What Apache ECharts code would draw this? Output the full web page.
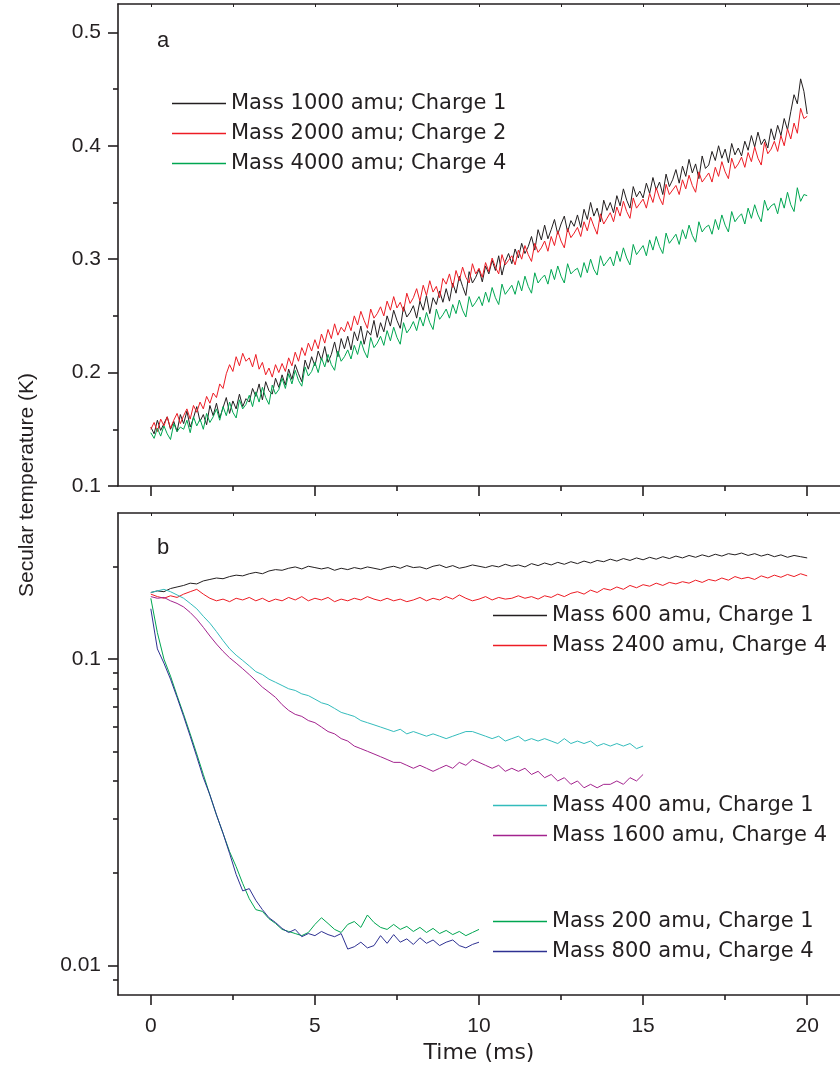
<!DOCTYPE html>
<html>
<head>
<meta charset="utf-8">
<script src="https://cdn.jsdelivr.net/npm/echarts@6/dist/echarts.min.js"></script>
<style>html,body{margin:0;padding:0;background:#fff;}#chart{width:840px;height:1073px;}</style>
</head>
<body>
<div id="chart"></div>
<script>
// ---------- DATA ----------
// sample times (ms), panel a: every 0.1 ms
const timeA = [0,0.1,0.2,0.3,0.4,0.5,0.6,0.7,0.8,0.9,1,1.1,1.2,1.3,1.4,1.5,1.6,1.7,1.8,1.9,2,2.1,2.2,2.3,2.4,2.5,2.6,2.7,2.8,2.9,3,3.1,3.2,3.3,3.4,3.5,3.6,3.7,3.8,3.9,4,4.1,4.2,4.3,4.4,4.5,4.6,4.7,4.8,4.9,5,5.1,5.2,5.3,5.4,5.5,5.6,5.7,5.8,5.9,6,6.1,6.2,6.3,6.4,6.5,6.6,6.7,6.8,6.9,7,7.1,7.2,7.3,7.4,7.5,7.6,7.7,7.8,7.9,8,8.1,8.2,8.3,8.4,8.5,8.6,8.7,8.8,8.9,9,9.1,9.2,9.3,9.4,9.5,9.6,9.7,9.8,9.9,10,10.1,10.2,10.3,10.4,10.5,10.6,10.7,10.8,10.9,11,11.1,11.2,11.3,11.4,11.5,11.6,11.7,11.8,11.9,12,12.1,12.2,12.3,12.4,12.5,12.6,12.7,12.8,12.9,13,13.1,13.2,13.3,13.4,13.5,13.6,13.7,13.8,13.9,14,14.1,14.2,14.3,14.4,14.5,14.6,14.7,14.8,14.9,15,15.1,15.2,15.3,15.4,15.5,15.6,15.7,15.8,15.9,16,16.1,16.2,16.3,16.4,16.5,16.6,16.7,16.8,16.9,17,17.1,17.2,17.3,17.4,17.5,17.6,17.7,17.8,17.9,18,18.1,18.2,18.3,18.4,18.5,18.6,18.7,18.8,18.9,19,19.1,19.2,19.3,19.4,19.5,19.6,19.7,19.8,19.9,20];
// sample times (ms), panel b: every 0.2 ms
const timeB = [0,0.2,0.4,0.6,0.8,1,1.2,1.4,1.6,1.8,2,2.2,2.4,2.6,2.8,3,3.2,3.4,3.6,3.8,4,4.2,4.4,4.6,4.8,5,5.2,5.4,5.6,5.8,6,6.2,6.4,6.6,6.8,7,7.2,7.4,7.6,7.8,8,8.2,8.4,8.6,8.8,9,9.2,9.4,9.6,9.8,10,10.2,10.4,10.6,10.8,11,11.2,11.4,11.6,11.8,12,12.2,12.4,12.6,12.8,13,13.2,13.4,13.6,13.8,14,14.2,14.4,14.6,14.8,15,15.2,15.4,15.6,15.8,16,16.2,16.4,16.6,16.8,17,17.2,17.4,17.6,17.8,18,18.2,18.4,18.6,18.8,19,19.2,19.4,19.6,19.8,20];

// panel a (linear, K)
const a_m1000_q1 = [.152,.146,.158,.149,.155,.161,.150,.157,.148,.163, .155,.166,.152,.160,.170,.157,.163,.154,.171,.162, .173,.160,.169,.178,.164,.175,.168,.181,.170,.177, .174,.186,.179,.190,.176,.192,.184,.181,.195,.187, .198,.189,.203,.194,.207,.199,.192,.211,.203,.214, .206,.219,.211,.223,.209,.216,.227,.214,.230,.221, .232,.220,.236,.228,.241,.225,.237,.233,.246,.231, .244,.236,.250,.241,.255,.246,.239,.258,.249,.253, .259,.248,.263,.255,.268,.252,.266,.260,.272,.262, .274,.263,.279,.270,.285,.276,.268,.289,.279,.284, .291,.280,.294,.287,.299,.290,.303,.286,.298,.305, .296,.309,.301,.314,.305,.311,.320,.308,.326,.317, .330,.318,.326,.335,.322,.331,.338,.324,.334,.329, .339,.328,.344,.335,.350,.338,.345,.333,.352,.343, .350,.341,.356,.347,.362,.352,.345,.364,.355,.360, .354,.367,.358,.372,.361,.368,.357,.375,.364,.370, .379,.367,.382,.373,.388,.376,.384,.371,.391,.380, .383,.395,.387,.400,.389,.397,.385,.402,.392,.398, .391,.404,.396,.409,.399,.412,.401,.406,.398,.415, .405,.418,.409,.424,.414,.430,.445,.437,.459,.448, .428];
const a_m2000_q2 = [.150,.156,.148,.159,.153,.161,.151,.158,.164,.155, .162,.168,.159,.171,.165,.174,.168,.179,.173,.182, .178,.190,.186,.199,.207,.201,.214,.206,.217,.210, .213,.205,.216,.203,.209,.198,.204,.196,.207,.200, .208,.201,.213,.206,.218,.210,.222,.215,.226,.219, .229,.221,.234,.226,.238,.230,.243,.233,.240,.236, .245,.237,.250,.242,.254,.246,.239,.256,.248,.252, .258,.250,.263,.255,.267,.257,.262,.254,.270,.261, .266,.274,.263,.277,.268,.281,.271,.276,.266,.283, .278,.287,.275,.290,.281,.293,.284,.279,.296,.287, .292,.284,.297,.289,.301,.293,.287,.304,.295,.299, .303,.295,.308,.300,.312,.304,.298,.314,.306,.310, .316,.307,.320,.312,.325,.316,.310,.327,.319,.323, .328,.320,.333,.325,.337,.329,.322,.340,.331,.336, .341,.333,.346,.338,.351,.342,.336,.354,.345,.349, .353,.345,.358,.350,.363,.354,.348,.366,.357,.361, .365,.357,.370,.362,.374,.365,.359,.377,.368,.372, .376,.368,.381,.373,.386,.377,.371,.389,.380,.384, .390,.381,.394,.386,.399,.389,.383,.403,.393,.397, .404,.395,.409,.400,.415,.406,.420,.411,.433,.424, .426];
const a_m4000_q4 = [.147,.142,.151,.144,.153,.146,.141,.155,.148,.152, .150,.158,.147,.161,.153,.159,.150,.164,.156,.161, .168,.158,.170,.162,.174,.165,.160,.176,.168,.172, .180,.170,.183,.174,.187,.178,.172,.189,.181,.185, .195,.186,.199,.190,.202,.193,.188,.205,.197,.201, .209,.200,.213,.205,.216,.207,.202,.219,.210,.214, .220,.212,.224,.216,.228,.219,.213,.231,.222,.226, .232,.224,.237,.228,.240,.231,.225,.244,.235,.239, .245,.237,.249,.241,.253,.244,.238,.256,.247,.251, .256,.248,.260,.252,.264,.255,.249,.267,.258,.262, .267,.259,.271,.262,.275,.266,.260,.278,.269,.273, .277,.269,.281,.272,.285,.276,.270,.288,.279,.283, .286,.278,.291,.282,.294,.285,.279,.296,.287,.290, .292,.284,.297,.288,.300,.291,.286,.303,.294,.298, .302,.294,.307,.298,.310,.301,.295,.313,.304,.308, .312,.303,.317,.308,.320,.311,.305,.323,.314,.318, .322,.313,.326,.318,.330,.321,.315,.333,.324,.328, .330,.322,.335,.326,.339,.330,.324,.342,.333,.337, .340,.331,.345,.336,.348,.339,.333,.352,.343,.347, .349,.340,.354,.345,.359,.348,.342,.363,.351,.357, .356];

// panel b (log, K)
const b_m600_q1 = [0.165,0.167,0.166,0.170,0.172,0.174, 0.177,0.176,0.180,0.182,0.184, 0.183,0.186,0.188,0.187,0.190, 0.192,0.190,0.194,0.196,0.195, 0.198,0.200,0.197,0.201,0.199, 0.197,0.199,0.195,0.198,0.196, 0.199,0.197,0.200,0.198,0.196, 0.199,0.201,0.198,0.202,0.199, 0.200,0.197,0.201,0.203,0.199, 0.202,0.198,0.200,0.203,0.201, 0.199,0.202,0.200,0.204,0.201, 0.203,0.200,0.205,0.202,0.206, 0.203,0.207,0.204,0.208,0.205, 0.209,0.206,0.210,0.208,0.212, 0.209,0.213,0.210,0.214,0.211, 0.215,0.212,0.216,0.213,0.217, 0.214,0.218,0.215,0.219,0.216, 0.220,0.217,0.221,0.219,0.222, 0.218,0.221,0.217,0.220,0.216, 0.219,0.215,0.218,0.216,0.214];
const b_m2400_q4 = [0.163,0.160,0.158,0.161,0.159,0.163, 0.166,0.169,0.163,0.158,0.155, 0.157,0.154,0.158,0.156,0.159, 0.155,0.158,0.154,0.157,0.155, 0.159,0.156,0.160,0.155,0.158, 0.156,0.159,0.154,0.157,0.155, 0.158,0.156,0.160,0.157,0.155, 0.158,0.155,0.157,0.154,0.156, 0.159,0.155,0.158,0.156,0.160, 0.157,0.162,0.158,0.155,0.157, 0.160,0.156,0.159,0.157,0.158, 0.161,0.158,0.160,0.157,0.161, 0.159,0.163,0.160,0.164,0.166, 0.163,0.168,0.165,0.170,0.168, 0.172,0.169,0.174,0.171,0.175, 0.173,0.177,0.174,0.178,0.176, 0.179,0.177,0.181,0.178,0.182, 0.180,0.184,0.181,0.186,0.183, 0.185,0.182,0.187,0.184,0.188, 0.185,0.189,0.186,0.190,0.187];
const b_m400_q1 = [0.165,0.167,0.169,0.166,0.162,0.158, 0.152,0.146,0.138,0.131,0.123, 0.115,0.108,0.103,0.099,0.095, 0.091,0.089,0.086,0.084,0.082, 0.080,0.079,0.077,0.076,0.074, 0.072,0.071,0.069,0.067,0.066, 0.065,0.063,0.062,0.061,0.060, 0.059,0.058,0.059,0.057,0.058, 0.057,0.056,0.057,0.056,0.055, 0.056,0.057,0.058,0.058,0.057, 0.056,0.055,0.056,0.054,0.055, 0.056,0.054,0.055,0.054,0.055, 0.054,0.053,0.055,0.053,0.054, 0.053,0.054,0.052,0.053,0.052, 0.053,0.052,0.053,0.051,0.052];
const b_m1600_q4 = [0.160,0.158,0.159,0.155,0.152,0.148, 0.142,0.135,0.127,0.119,0.112, 0.106,0.101,0.097,0.093,0.089, 0.085,0.081,0.078,0.075,0.071, 0.068,0.066,0.065,0.063,0.062, 0.060,0.058,0.057,0.055,0.054, 0.052,0.051,0.050,0.049,0.048, 0.047,0.046,0.046,0.045,0.044, 0.045,0.044,0.043,0.044,0.045, 0.044,0.046,0.045,0.047,0.046, 0.045,0.044,0.045,0.043,0.044, 0.043,0.044,0.042,0.043,0.041, 0.042,0.040,0.041,0.039,0.040, 0.038,0.039,0.038,0.039,0.039, 0.040,0.039,0.041,0.040,0.042];
const b_m200_q1 = [0.158,0.122,0.100,0.088,0.076,0.066, 0.057,0.049,0.042,0.036,0.031, 0.027,0.0235,0.021,0.0185,0.0165, 0.0152,0.0150,0.0142,0.0137,0.0131, 0.0129,0.0127,0.0125,0.0128,0.0136, 0.0143,0.0137,0.0131,0.0128,0.0136, 0.0139,0.0133,0.0146,0.0138,0.0133, 0.0131,0.0136,0.0131,0.0134,0.0129, 0.0133,0.0128,0.0132,0.0127,0.0130, 0.0126,0.0129,0.0125,0.0128,0.0131];
const b_m800_q4 = [0.146,0.108,0.097,0.086,0.075,0.065, 0.056,0.048,0.041,0.036,0.031, 0.027,0.0232,0.0198,0.0175,0.0178, 0.0163,0.0152,0.0143,0.0138,0.0132, 0.0128,0.0131,0.0124,0.0127,0.0125, 0.0129,0.0126,0.0124,0.0127,0.0113, 0.0115,0.0119,0.0114,0.0116,0.0125, 0.0118,0.0126,0.0119,0.0122,0.0117, 0.0123,0.0118,0.0121,0.0116,0.0119, 0.0121,0.0116,0.0114,0.0117,0.0119];

// tick values / labels
const xMajorTicks = [0, 5, 10, 15, 20];
const xMinorTicks = [2.5, 7.5, 12.5, 17.5];
const xTopTicks = [0, 2.5, 5, 7.5, 10, 12.5, 15, 17.5, 20];
const yaMajorTicks = [0.1, 0.2, 0.3, 0.4, 0.5];
const yaMinorTicks = [0.15, 0.25, 0.35, 0.45];
const ybMajorTicks = [0.01, 0.1];
const ybMinorTicks = [0.009, 0.02, 0.03, 0.04, 0.05, 0.06, 0.07, 0.08, 0.09, 0.2];

const namesA = ['Mass 1000 amu; Charge 1', 'Mass 2000 amu; Charge 2', 'Mass 4000 amu; Charge 4'];
const namesB = ['Mass 600 amu, Charge 1', 'Mass 2400 amu, Charge 4', 'Mass 400 amu, Charge 1', 'Mass 1600 amu, Charge 4', 'Mass 200 amu, Charge 1', 'Mass 800 amu, Charge 4'];

// ---------- CHART ----------
const FONT = "'Liberation Sans', Arial, sans-serif";
const WIDE = "'DejaVu Sans', 'Liberation Sans', sans-serif";
const INK = '#231f20';
const AXW = 1.6;
const pair = (times, vals) => vals.map((v, i) => [times[i], v]);

function xAxes(gridIndex, withLabels) {
  return [
    { gridIndex, type: 'value', position: 'bottom', min: -1, max: 21,
      axisLine: { onZero: false, lineStyle: { color: INK, width: AXW } },
      axisTick: { show: true, inside: false, length: 10, customValues: xMajorTicks, lineStyle: { color: INK, width: AXW } },
      axisLabel: { show: withLabels, customValues: xMajorTicks, margin: 21, fontSize: 21, color: INK, fontFamily: FONT },
      splitLine: { show: false },
      name: withLabels ? 'Time (ms)' : '', nameLocation: 'middle', nameGap: 47,
      nameTextStyle: { fontSize: 22, color: INK, fontFamily: WIDE } },
    { gridIndex, type: 'value', position: 'bottom', min: -1, max: 21,
      axisLine: { show: false, onZero: false },
      axisTick: { show: true, inside: false, length: 5, customValues: xMinorTicks, lineStyle: { color: INK, width: AXW } },
      axisLabel: { show: false }, splitLine: { show: false } },
    { gridIndex, type: 'value', position: 'top', min: -1, max: 21,
      axisLine: { onZero: false, lineStyle: { color: INK, width: AXW } },
      axisTick: { show: true, inside: true, length: 3, customValues: xTopTicks, lineStyle: { color: INK, width: 1 } },
      axisLabel: { show: false }, splitLine: { show: false } }
  ];
}

const option = {
  animation: false,
  backgroundColor: '#fff',
  textStyle: { fontFamily: FONT, color: INK },
  grid: [
    { left: 118, top: 4, width: 724, height: 482 },
    { left: 118, top: 513, width: 724, height: 482 }
  ],
  xAxis: [...xAxes(0, false), ...xAxes(1, true)],
  yAxis: [
    { gridIndex: 0, type: 'value', position: 'left', min: 0.1, max: 0.525,
      axisLine: { show: true, onZero: false, lineStyle: { color: INK, width: AXW } },
      axisTick: { show: true, length: 10, customValues: yaMajorTicks, lineStyle: { color: INK, width: AXW } },
      axisLabel: { customValues: yaMajorTicks, margin: 17, fontSize: 21, color: INK, fontFamily: FONT, formatter: v => v.toFixed(1) },
      splitLine: { show: false } },
    { gridIndex: 0, type: 'value', position: 'left', min: 0.1, max: 0.525,
      axisLine: { show: false, onZero: false },
      axisTick: { show: true, length: 5, customValues: yaMinorTicks, lineStyle: { color: INK, width: AXW } },
      axisLabel: { show: false }, splitLine: { show: false } },
    { gridIndex: 1, type: 'log', logBase: 10, position: 'left', min: 0.008, max: 0.3,
      axisLine: { show: true, onZero: false, lineStyle: { color: INK, width: AXW } },
      axisTick: { show: true, length: 10, customValues: ybMajorTicks, lineStyle: { color: INK, width: AXW } },
      axisLabel: { showMinLabel: false, showMaxLabel: false, margin: 17, fontSize: 21, color: INK, fontFamily: FONT,
        formatter: v => (Math.abs(v - 0.01) < 1e-6 ? '0.01' : (Math.abs(v - 0.1) < 1e-5 ? '0.1' : '')) },
      splitLine: { show: false } },
    { gridIndex: 1, type: 'log', logBase: 10, position: 'left', min: 0.008, max: 0.3,
      axisLine: { show: false, onZero: false },
      axisTick: { show: true, length: 5, customValues: ybMinorTicks, lineStyle: { color: INK, width: AXW } },
      axisLabel: { show: false }, splitLine: { show: false } }
  ],
  legend: [
    { data: namesA, orient: 'vertical', left: 172, top: 93 },
    { data: namesB.slice(0, 2), orient: 'vertical', left: 493, top: 605 },
    { data: namesB.slice(2, 4), orient: 'vertical', left: 493, top: 795 },
    { data: namesB.slice(4, 6), orient: 'vertical', left: 493, top: 911 }
  ].map(l => Object.assign(l, {
    icon: 'rect', itemWidth: 54, itemHeight: 1.5, itemGap: 9, padding: 0, selectedMode: false,
    textStyle: { fontSize: 21, color: INK, fontFamily: WIDE, lineHeight: 20 }
  })),
  graphic: [
    { type: 'text', left: 157, top: 30, style: { text: 'a', fontSize: 22, fill: INK, fontFamily: FONT } },
    { type: 'text', left: 157, top: 537, style: { text: 'b', fontSize: 22, fill: INK, fontFamily: FONT } },
    { type: 'text', x: 27, y: 485, rotation: Math.PI / 2,
      style: { text: 'Secular temperature (K)', fontSize: 21, fill: INK, fontFamily: FONT, align: 'center', verticalAlign: 'middle' } }
  ],
  series: [
    { name: namesA[0], data: pair(timeA, a_m1000_q1), color: '#231f20', xAxisIndex: 0, yAxisIndex: 0 },
    { name: namesA[1], data: pair(timeA, a_m2000_q2), color: '#ed1c24', xAxisIndex: 0, yAxisIndex: 0 },
    { name: namesA[2], data: pair(timeA, a_m4000_q4), color: '#00a651', xAxisIndex: 0, yAxisIndex: 0 },
    { name: namesB[0], data: pair(timeB, b_m600_q1), color: '#231f20', xAxisIndex: 3, yAxisIndex: 2 },
    { name: namesB[1], data: pair(timeB, b_m2400_q4), color: '#ed1c24', xAxisIndex: 3, yAxisIndex: 2 },
    { name: namesB[2], data: pair(timeB, b_m400_q1), color: '#33bcbc', xAxisIndex: 3, yAxisIndex: 2 },
    { name: namesB[3], data: pair(timeB, b_m1600_q4), color: '#a3238e', xAxisIndex: 3, yAxisIndex: 2 },
    { name: namesB[4], data: pair(timeB, b_m200_q1), color: '#00a651', xAxisIndex: 3, yAxisIndex: 2 },
    { name: namesB[5], data: pair(timeB, b_m800_q4), color: '#2e3192', xAxisIndex: 3, yAxisIndex: 2 }
  ].map(s => Object.assign(s, {
    type: 'line', symbol: 'none', showSymbol: false, lineStyle: { width: 1, color: s.color }, itemStyle: { color: s.color }
  }))
};

const chart = echarts.init(document.getElementById('chart'), null, { renderer: 'canvas' });
chart.setOption(option);
</script>
</body>
</html>
